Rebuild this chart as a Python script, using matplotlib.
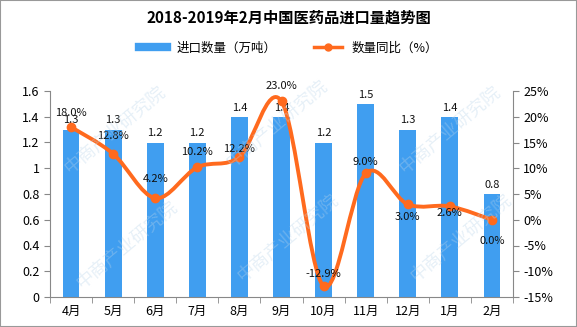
import matplotlib
matplotlib.use('Agg')
import matplotlib.pyplot as plt
from matplotlib.path import Path
from matplotlib.patches import PathPatch, Rectangle
from matplotlib.lines import Line2D
import numpy as np

plt.rcParams['font.family'] = ['Noto Sans CJK SC', 'DejaVu Sans']

months = ['4月', '5月', '6月', '7月', '8月', '9月', '10月', '11月', '12月', '1月', '2月']
volume = [1.3, 1.3, 1.2, 1.2, 1.4, 1.4, 1.2, 1.5, 1.3, 1.4, 0.8]
yoy = [18.0, 12.8, 4.2, 10.2, 12.2, 23.0, -12.9, 9.0, 3.0, 2.6, 0.0]
yoy_labels = ['18.0%', '12.8%', '4.2%', '10.2%', '12.2%', '23.0%', '-12.9%', '9.0%', '3.0%', '2.6%', '0.0%']
# label offsets in points (dx, dy)
yoy_offsets = [(0, 10), (0, 13), (0, 14), (0, 11), (0, 6), (0, 11), (0, 9), (0, 8), (0, -9), (0, -5), (0, -15)]

BLUE = '#409EF0'
ORANGE = '#FF6A1E'
GRAY = '#888888'

fig = plt.figure(figsize=(5.77, 3.27), dpi=100)
ax = fig.add_axes([50 / 577, 30 / 327, 463 / 577, 206 / 327])
ax2 = ax.twinx()

x = np.arange(len(months))
ax.bar(x, volume, width=0.4, color=BLUE, zorder=2)
for xi, v in zip(x, volume):
    ax.annotate('%.1f' % v, (xi, v), xytext=(0, 3), textcoords='offset points',
                ha='center', va='bottom', fontsize=8, color='#111111', zorder=5)

ax.set_xlim(-0.5, len(months) - 0.5)
ax.set_ylim(0, 1.6)
ax.set_yticks(np.arange(0, 1.61, 0.2))
ax.set_yticklabels(['0', '0.2', '0.4', '0.6', '0.8', '1', '1.2', '1.4', '1.6'])
ax.set_xticks(x)
ax.set_xticklabels(months)
ax.set_xticks(np.arange(-0.5, len(months), 1), minor=True)
ax.tick_params(axis='x', which='major', length=0, labelsize=9, pad=6)
ax.tick_params(axis='x', which='minor', length=4, color=GRAY)
ax.tick_params(axis='y', length=4, color=GRAY, labelsize=9, direction='out')

ax2.set_ylim(-15, 25)
ax2.set_yticks(np.arange(-15, 26, 5))
ax2.set_yticklabels(['%d%%' % t for t in np.arange(-15, 26, 5)])
ax2.tick_params(axis='y', length=4, color=GRAY, labelsize=9)

for a in (ax, ax2):
    for s in a.spines.values():
        s.set_visible(False)
ax.spines['left'].set_visible(True)
ax.spines['bottom'].set_visible(True)
ax2.spines['right'].set_visible(True)
ax.spines['left'].set_color(GRAY)
ax.spines['bottom'].set_color(GRAY)
ax2.spines['right'].set_color(GRAY)

# smoothed line (Catmull-Rom -> cubic Bezier) through the data points
pts = list(zip(x.astype(float), yoy))
verts = [pts[0]]
codes = [Path.MOVETO]
n = len(pts)
for i in range(n - 1):
    p0 = pts[i - 1] if i > 0 else pts[i]
    p1 = pts[i]
    p2 = pts[i + 1]
    p3 = pts[i + 2] if i + 2 < n else pts[i + 1]
    c1 = (p1[0] + (p2[0] - p0[0]) / 6, p1[1] + (p2[1] - p0[1]) / 6)
    c2 = (p2[0] - (p3[0] - p1[0]) / 6, p2[1] - (p3[1] - p1[1]) / 6)
    verts += [c1, c2, p2]
    codes += [Path.CURVE4] * 3
ax2.add_patch(PathPatch(Path(verts, codes), facecolor='none', edgecolor=ORANGE, lw=2.8, zorder=3))
ax2.plot(x, yoy, 'o', color=ORANGE, ms=6, zorder=4)
for xi, v, lab, off in zip(x, yoy, yoy_labels, yoy_offsets):
    ax2.annotate(lab, (xi, v), xytext=off, textcoords='offset points',
                 ha='center', va='center', fontsize=8, color='#111111', zorder=5)

# watermark
for wx, wy in [(0.2, 0.6), (0.48, 0.62), (0.78, 0.6), (0.22, 0.25), (0.5, 0.27), (0.8, 0.27)]:
    fig.text(wx, wy, '中商产业研究院', rotation=40, fontsize=13, color='#B9D4EA',
             alpha=0.35, ha='center', va='center', zorder=0)

fig.text(0.5, 1 - 18 / 327, '2018-2019年2月中国医药品进口量趋势图', ha='center', va='center',
         fontsize=11, fontweight='bold')

handles = [Line2D([], [], color=BLUE, lw=6),
           Line2D([], [], color=ORANGE, lw=2.5, marker='o', ms=5)]
fig.legend(handles, ['进口数量（万吨）', '数量同比（%）'], loc='center',
           bbox_to_anchor=(0.5, 1 - 48 / 327), ncol=2, frameon=False, fontsize=9,
           handlelength=2.2, columnspacing=3)

fig.patches.append(Rectangle((0, 0), 1, 1, transform=fig.transFigure, fill=False,
                             edgecolor='#999999', lw=1.5))

fig.savefig('out.png', dpi=100)
